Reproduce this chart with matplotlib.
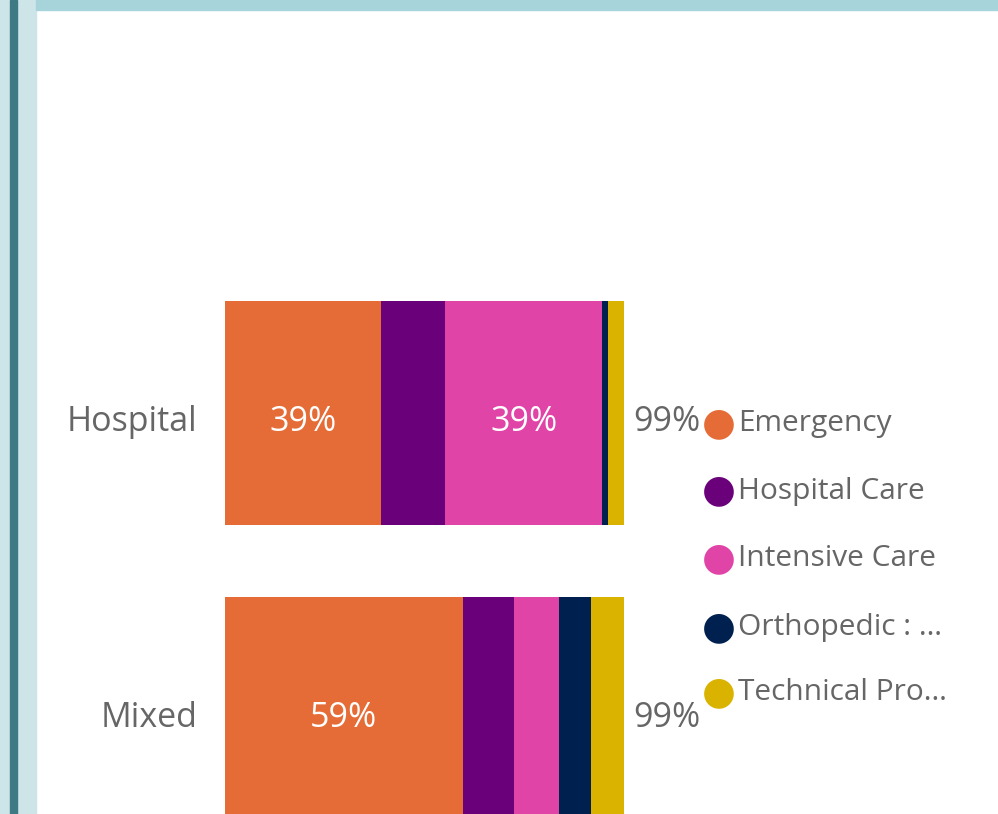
import matplotlib.pyplot as plt
from matplotlib.patches import Rectangle

categories = ['Hospital', 'Mixed']
series = ['Emergency', 'Hospital Care', 'Intensive Care', 'Orthopedic : Trauma', 'Technical Procedures']
legend_labels = ['Emergency', 'Hospital Care', 'Intensive Care', 'Orthopedic : \u2026', 'Technical Pro\u2026']
colors = ['#E66C37', '#6B007B', '#E044A7', '#00204F', '#D9B300']

# percent share per series, one entry per category
emergency = [38.7, 59.0]
hospital_care = [15.9, 12.7]
intensive_care = [39.0, 11.2]
orthopedic = [1.5, 7.9]
technical = [3.9, 8.2]
values = [emergency, hospital_care, intensive_care, orthopedic, technical]

W, H = 998, 814
fig = plt.figure(figsize=(W / 100, H / 100), dpi=100)
fig.patch.set_facecolor('white')

# report frame: left bands and top band
fig.patches.append(Rectangle((0, 0), 36 / W, 1, transform=fig.transFigure, color='#cde5e9', zorder=0))
fig.patches.append(Rectangle((10 / W, 0), 7 / W, 1, transform=fig.transFigure, color='#3e7a83', zorder=1))
fig.patches.append(Rectangle((36 / W, 1 - 10 / H), 1, 10 / H, transform=fig.transFigure, color='#a7d3db', zorder=1))

# axes placed so 0..99 spans the bar area
ax = fig.add_axes([225 / W, 0, (624 - 225) / W, (814 - 260) / H])
ax.set_xlim(0, 99)
ax.set_ylim(1.355, -0.517)
ax.axis('off')

font = 'Open Sans'
fs = 24.5
dy = 0.03  # text sits a little below bar centre
ypos = list(range(len(categories)))
left = [0.0] * len(categories)
for vals, col in zip(values, colors):
    ax.barh(ypos, vals, left=left, height=0.757, color=col, zorder=2)
    for i, v in enumerate(vals):
        if v >= 30:
            ax.text(left[i] + v / 2, ypos[i] + dy, f'{round(v):.0f}%', ha='center', va='center',
                    color='white', fontsize=fs, family=font, zorder=3)
    left = [l + v for l, v in zip(left, vals)]

for i, cat in enumerate(categories):
    total = left[i]
    ax.text(total + 2.3, ypos[i] + dy, f'{int(total)}%', ha='left', va='center', color='#666666',
            fontsize=fs, family=font, clip_on=False)
    ax.text(-6.8, ypos[i] + dy, cat, ha='right', va='center', color='#666666',
            fontsize=fs, family=font, clip_on=False)

# legend
leg_y = [423, 490, 558, 627, 692]
for lab, col, y in zip(legend_labels, colors, leg_y):
    fig.text(719 / W, 1 - y / H, '\u25CF', color=col, fontsize=28, ha='center', va='center', family='DejaVu Sans')
    fig.text(738 / W, 1 - (y + 1) / H, lab, color='#666666', fontsize=21.5, ha='left', va='center', family=font)

fig.savefig('out.png', dpi=100)
